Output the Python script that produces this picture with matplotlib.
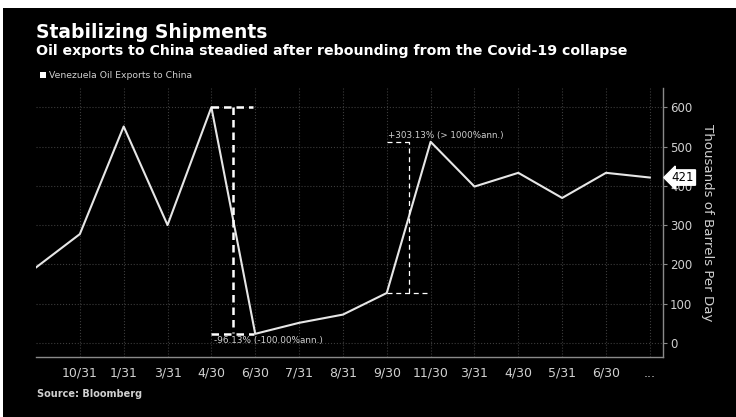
import matplotlib
matplotlib.use('Agg')
import matplotlib.pyplot as plt
import matplotlib.transforms as mtransforms
from matplotlib.patches import Rectangle

# Venezuela oil exports to China, thousands of barrels per day
labels = ['', '10/31', '1/31', '3/31', '4/30', '6/30', '7/31', '8/31',
          '9/30', '11/30', '3/31', '4/30', '5/31', '6/30', '...']
values = [192, 277, 551, 300, 600, 23, 51, 72, 127, 512, 398, 433, 369, 433, 421]
yticks = [0, 100, 200, 300, 400, 500, 600]

NARROW = ['Liberation Sans Narrow', 'DejaVu Sans']
TXT = '#d0d0d0'
GRID = '#3c3c3c'

fig = plt.figure(figsize=(7.36, 4.17), dpi=100, facecolor='black')
# white margin on top and left of the reference
fig.patches.append(Rectangle((0, 409 / 417), 1, 8 / 417,
                             transform=fig.transFigure, fc='white', ec='none'))
fig.patches.append(Rectangle((0, 0), 3 / 736, 1,
                             transform=fig.transFigure, fc='white', ec='none'))

ax = fig.add_axes([36 / 736, 60 / 417, 627 / 736, 269 / 417])
ax.set_facecolor('black')
x = list(range(len(values)))
ax.plot(x, values, color='#e6e6e6', lw=1.5, zorder=3)

ax.set_xlim(0, 14.3)
ax.set_ylim(-36, 649)

# axes styling
for s in ['left', 'top']:
    ax.spines[s].set_visible(False)
for s in ['right', 'bottom']:
    ax.spines[s].set_color('#8a8a8a')
    ax.spines[s].set_linewidth(1.0)

ax.yaxis.tick_right()
ax.yaxis.set_label_position('right')
ax.set_yticks(yticks)
ax.set_xticks(x[1:])
ax.set_xticklabels(labels[1:])
ax.tick_params(axis='y', colors='#8a8a8a', labelcolor=TXT, length=3,
               width=0.8, pad=2, labelsize=8.5)
ax.tick_params(axis='x', colors='#8a8a8a', labelcolor=TXT, length=0,
               pad=7, labelsize=9)
for t in ax.get_xticklabels() + ax.get_yticklabels():
    t.set_family(NARROW)

ax.grid(True, color=GRID, linestyle=':', linewidth=0.8, zorder=0)
ax.set_ylabel('Thousands of Barrels Per Day', rotation=270, color=TXT,
              fontsize=9.6, labelpad=16, family=NARROW)

# last value tag
trans = mtransforms.blended_transform_factory(ax.transAxes, ax.transData)
ax.text(1.014, values[-1], '421', transform=trans, fontsize=8.5,
        color='black', va='center', ha='left', family=NARROW,
        bbox=dict(boxstyle='larrow,pad=0.1', fc='white', ec='white'),
        clip_on=False, zorder=5)

# change annotations
ax.plot([4, 4.96], [600, 600], color='white', lw=1.8, ls=(0, (3, 2)), zorder=4)
ax.plot([4.5, 4.5], [600, 25], color='white', lw=1.8, ls=(0, (3, 2)), zorder=4)
ax.plot([4, 4.98], [23, 23], color='white', lw=1.8, ls=(0, (3, 2)), zorder=4)
ax.text(4.07, 6, '-96.13% (-100.00%ann.)', color=TXT, fontsize=6.4,
        va='center', ha='left', family=NARROW, zorder=5)

ax.plot([8, 8.96], [127, 127], color='white', lw=0.9, ls=(0, (4, 3)), zorder=4)
ax.plot([8.5, 8.5], [127, 512], color='white', lw=0.9, ls=(0, (4, 3)), zorder=4)
ax.plot([8, 8.55], [512, 512], color='white', lw=0.9, ls=(0, (4, 3)), zorder=4)
ax.text(8.02, 527, '+303.13% (> 1000%ann.)', color=TXT, fontsize=6.3,
        va='center', ha='left', family=NARROW, zorder=5)

# titles
fig.text(36 / 736, 1 - 38 / 417, 'Stabilizing Shipments', color='white',
         fontsize=13.5, fontweight='bold', va='baseline', ha='left')
fig.text(36 / 736, 1 - 55 / 417,
         'Oil exports to China steadied after rebounding from the Covid-19 collapse',
         color='white', fontsize=10.2, fontweight='bold', va='baseline', ha='left')

# legend
fig.patches.append(Rectangle((40 / 736, 1 - 78 / 417), 6 / 736, 6 / 417,
                             transform=fig.transFigure, fc='white', ec='none'))
fig.text(49 / 736, 1 - 75 / 417, 'Venezuela Oil Exports to China',
         color=TXT, fontsize=6.7, va='center', ha='left', family=NARROW)

fig.text(37 / 736, 1 - 394 / 417, 'Source: Bloomberg', color=TXT,
         fontsize=7, fontweight='bold', va='center', ha='left')

fig.savefig('out.png', dpi=100, facecolor=fig.get_facecolor())
